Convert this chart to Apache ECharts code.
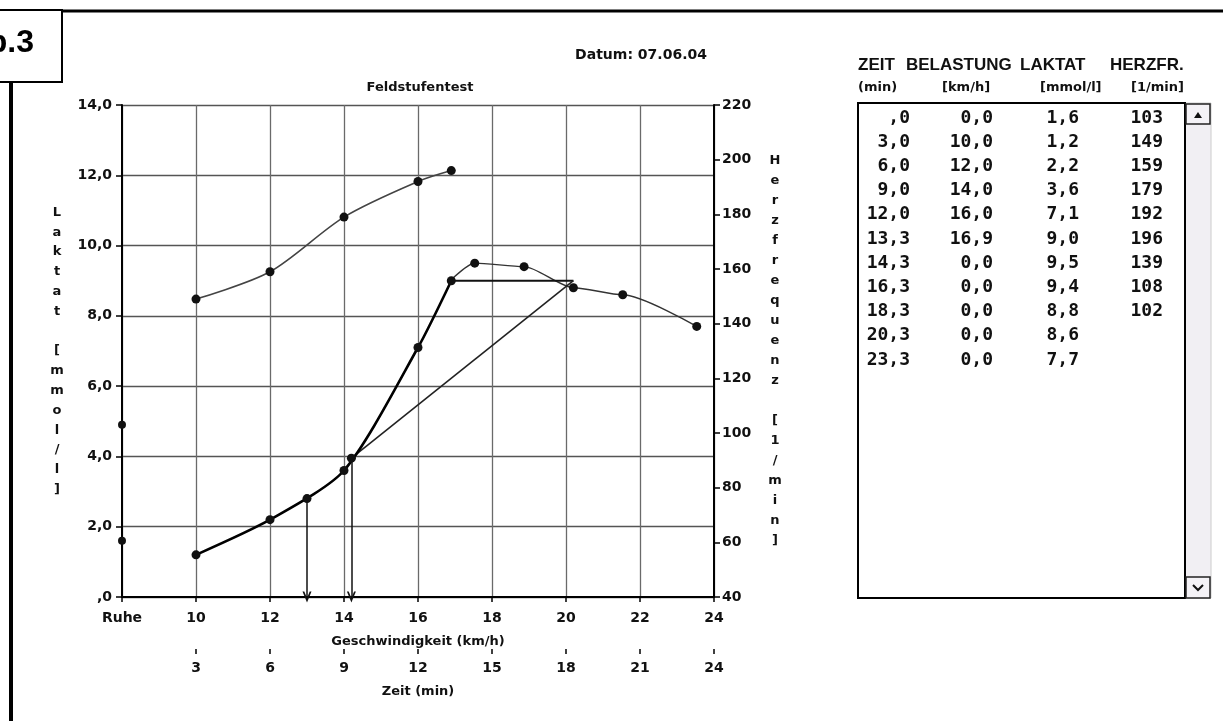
<!DOCTYPE html>
<html><head><meta charset="utf-8">
<script src="https://cdn.jsdelivr.net/npm/echarts@6/dist/echarts.min.js"></script>
<style>html,body{margin:0;padding:0;background:#fff;}#c{width:1223px;height:721px;}</style>
</head><body><div id="c"></div>
<script>
// ---- table / measurement data ----
const zeitMin      = [0, 3, 6, 9, 12, 13.3, 14.3, 16.3, 18.3, 20.3, 23.3];
const belastungKmh = [0, 10, 12, 14, 16, 16.9, 0, 0, 0, 0, 0];
const laktat       = [1.6, 1.2, 2.2, 3.6, 7.1, 9.0, 9.5, 9.4, 8.8, 8.6, 7.7];
const herzfrequenz = [103, 149, 159, 179, 192, 196, 139, 108, 102, null, null];

// ---- axis ticks ----
const speedTicks      = [8, 10, 12, 14, 16, 18, 20, 22, 24];
const speedTickLabels = ['Ruhe', '10', '12', '14', '16', '18', '20', '22', '24'];
const timeTicks       = [3, 6, 9, 12, 15, 18, 21, 24];
const laktatTicks     = [0, 2, 4, 6, 8, 10, 12, 14];
const laktatTickLabels= [',0', '2,0', '4,0', '6,0', '8,0', '10,0', '12,0', '14,0'];
const hfTicks         = [40, 60, 80, 100, 120, 140, 160, 180, 200, 220];

// ---- threshold construction ----
const schwelleSpeed  = [13.0, 14.2];
const schwelleLaktat = [2.8, 3.95];
const iasHorizontal  = [[16.9, 9.0], [20.2, 9.0]];
const iasTangent     = [[20.2, 9.0], [14.2, 3.95]];

// ---- table texts ----
const tableHeaders = ['ZEIT', 'BELASTUNG', 'LAKTAT', 'HERZFR.'];
const tableUnits   = ['(min)', '[km/h]', '[mmol/l]', '[1/min]'];

const comma1 = v => v.toFixed(1).replace('.', ',');
const fmtZeit = v => v === 0 ? ',0' : comma1(v);

const stepIdx = belastungKmh.map((b, i) => b > 0 ? i : -1).filter(i => i >= 0);
const peakIdx = stepIdx[stepIdx.length - 1];
const recIdx = zeitMin.map((t, i) => i > peakIdx ? i : -1).filter(i => i >= 0);
const ruheX = speedTicks[0];

const lblFont = {fontFamily: 'DejaVu Sans', fontWeight: 'bold', color: '#111'};
const dot = {color: '#111', opacity: 1};

const chevron = 'path://M5,0 L10,10 L8,10 L5,4 L2,10 L0,10 Z';

// ---- graphic: frame + table ----
const g = [];
g.push({type: 'line', shape: {x1: 60, y1: 11, x2: 1223, y2: 11}, style: {stroke: '#000', lineWidth: 3}});
g.push({type: 'line', shape: {x1: 11, y1: 82, x2: 11, y2: 721}, style: {stroke: '#000', lineWidth: 4}});
g.push({type: 'rect', shape: {x: -2, y: 10, width: 64, height: 72}, style: {fill: '#fff', stroke: '#000', lineWidth: 2}});
g.push({type: 'text', x: 34, y: 43, style: {text: 'Abb.3', fontSize: 32, fontWeight: 'bold', fontFamily: 'Liberation Sans', fill: '#000', align: 'right', verticalAlign: 'middle'}});
g.push({type: 'text', x: 641, y: 55, style: {text: 'Datum: 07.06.04', fontSize: 14, fontWeight: 'bold', fontFamily: 'DejaVu Sans', fill: '#111', align: 'center', verticalAlign: 'middle'}});
g.push({type: 'text', x: 420, y: 88, style: {text: 'Feldstufentest', fontSize: 13, fontWeight: 'bold', fontFamily: 'DejaVu Sans', fill: '#111', align: 'center', verticalAlign: 'middle'}});

const headerX = [858, 906, 1020, 1110];
tableHeaders.forEach((h, i) => g.push({type: 'text', x: headerX[i], y: 65, style: {text: h, fontSize: 17, fontWeight: 'bold', fontFamily: 'Liberation Sans', fill: '#111', align: 'left', verticalAlign: 'middle'}}));
const unitX = [858, 942, 1040, 1131];
tableUnits.forEach((h, i) => g.push({type: 'text', x: unitX[i], y: 88, style: {text: h, fontSize: 13, fontWeight: 'bold', fontFamily: 'DejaVu Sans', fill: '#111', align: 'left', verticalAlign: 'middle'}}));

// list box and scrollbar
g.push({type: 'rect', shape: {x: 1185, y: 103, width: 26, height: 495}, style: {fill: '#f1eff3', stroke: '#ccc', lineWidth: 1}});
g.push({type: 'rect', shape: {x: 858, y: 103, width: 327, height: 495}, style: {fill: '#fff', stroke: '#000', lineWidth: 2}});
g.push({type: 'rect', shape: {x: 1186, y: 104, width: 24, height: 20}, style: {fill: '#f4f2f6', stroke: '#222', lineWidth: 1.5}});
g.push({type: 'polygon', shape: {points: [[1194, 118], [1202, 118], [1198, 112]]}, style: {fill: '#111'}});
g.push({type: 'rect', shape: {x: 1186, y: 577, width: 24, height: 21}, style: {fill: '#f4f2f6', stroke: '#222', lineWidth: 1.5}});
g.push({type: 'polyline', shape: {points: [[1193, 585], [1198, 590], [1203, 585]]}, style: {stroke: '#111', lineWidth: 2}});

const cols = [
  {vals: zeitMin.map(fmtZeit), x: 910},
  {vals: belastungKmh.map(comma1), x: 993},
  {vals: laktat.map(comma1), x: 1079},
  {vals: herzfrequenz.map(v => v == null ? '' : String(v)), x: 1163}
];
cols.forEach(c => c.vals.forEach((t, r) => g.push({type: 'text', x: c.x, y: 118 + r * 24.2, style: {text: t, fontSize: 18, fontWeight: 'bold', fontFamily: 'DejaVu Sans Mono', fill: '#111', align: 'right', verticalAlign: 'middle'}})));

const option = {
  animation: false,
  backgroundColor: '#fff',
  grid: {left: 122, right: 509, top: 105, bottom: 124},
  xAxis: [
    {
      type: 'value', min: speedTicks[0], max: speedTicks[speedTicks.length - 1], interval: 2, position: 'bottom',
      axisLine: {show: true, onZero: false, lineStyle: {color: '#000', width: 2}},
      axisTick: {show: true, length: 5, lineStyle: {color: '#000', width: 1.5}},
      axisLabel: Object.assign({margin: 14, fontSize: 14, formatter: v => speedTickLabels[speedTicks.indexOf(v)] || ''}, lblFont),
      splitLine: {show: true, lineStyle: {color: '#6a6a6a', width: 1.3}},
      name: 'Geschwindigkeit (km/h)', nameLocation: 'middle', nameGap: 38,
      nameTextStyle: Object.assign({fontSize: 13}, lblFont)
    },
    {
      type: 'value', min: 0, max: 24, interval: 3, position: 'bottom', offset: 52,
      axisLine: {show: false, onZero: false},
      axisTick: {show: true, length: 5, customValues: timeTicks, lineStyle: {color: '#000', width: 1.5}},
      axisLabel: Object.assign({margin: 12, fontSize: 14, customValues: timeTicks, formatter: v => v === 0 ? '' : String(v)}, lblFont),
      splitLine: {show: false},
      name: 'Zeit (min)', nameLocation: 'middle', nameGap: 36,
      nameTextStyle: Object.assign({fontSize: 13}, lblFont)
    }
  ],
  yAxis: [
    {
      type: 'value', min: laktatTicks[0], max: laktatTicks[laktatTicks.length - 1], interval: 2, position: 'left',
      axisLine: {show: true, lineStyle: {color: '#000', width: 2}},
      axisTick: {show: true, length: 6, lineStyle: {color: '#000', width: 1.5}},
      axisLabel: Object.assign({margin: 10, fontSize: 14, formatter: v => laktatTickLabels[laktatTicks.indexOf(v)] || ''}, lblFont),
      splitLine: {show: true, lineStyle: {color: '#555', width: 1.4}},
      name: 'Laktat [mmol/l]'.split('').join('\n'), nameLocation: 'middle', nameRotate: 0, nameGap: 65,
      nameTextStyle: Object.assign({fontSize: 13, lineHeight: 19.8, align: 'center', verticalAlign: 'middle'}, lblFont)
    },
    {
      type: 'value', min: hfTicks[0], max: hfTicks[hfTicks.length - 1], interval: 20, position: 'right',
      axisLine: {show: true, lineStyle: {color: '#000', width: 2}},
      axisTick: {show: true, length: 6, lineStyle: {color: '#000', width: 1.5}},
      axisLabel: Object.assign({margin: 8, fontSize: 14}, lblFont),
      splitLine: {show: false},
      name: 'Herzfrequenz [1/min]'.split('').join('\n'), nameLocation: 'middle', nameRotate: 0, nameGap: 61,
      nameTextStyle: Object.assign({fontSize: 13, lineHeight: 20, align: 'center', verticalAlign: 'middle'}, lblFont)
    }
  ],
  graphic: g,
  series: [
    {
      name: 'Herzfrequenz', type: 'line', xAxisIndex: 0, yAxisIndex: 1, smooth: 0.3,
      data: stepIdx.map(i => [belastungKmh[i], herzfrequenz[i]]),
      lineStyle: {color: '#444', width: 1.6}, symbol: 'circle', symbolSize: 9, itemStyle: dot, z: 3
    },
    {
      name: 'Herzfrequenz Ruhe', type: 'scatter', xAxisIndex: 0, yAxisIndex: 1,
      data: [[ruheX, herzfrequenz[0]]], symbolSize: 8, itemStyle: dot, z: 4
    },
    {
      name: 'Laktat', type: 'line', xAxisIndex: 0, yAxisIndex: 0, smooth: 0.25,
      data: stepIdx.map(i => [belastungKmh[i], laktat[i]]),
      lineStyle: {color: '#000', width: 2.6}, symbol: 'circle', symbolSize: 9, itemStyle: dot, z: 4
    },
    {
      name: 'Laktat Ruhe', type: 'scatter', xAxisIndex: 0, yAxisIndex: 0,
      data: [[ruheX, laktat[0]]], symbolSize: 8, itemStyle: dot, z: 4
    },
    {
      name: 'Nachbelastung Kurve', type: 'line', xAxisIndex: 1, yAxisIndex: 0, smooth: 0.25, smoothMonotone: 'x', showSymbol: false,
      data: [[zeitMin[peakIdx], laktat[peakIdx]]].concat(recIdx.map(i => [zeitMin[i], laktat[i]])),
      lineStyle: {color: '#333', width: 1.4}, z: 3
    },
    {
      name: 'Nachbelastung', type: 'scatter', xAxisIndex: 1, yAxisIndex: 0,
      data: recIdx.map(i => [zeitMin[i], laktat[i]]), symbolSize: 9, itemStyle: dot, z: 4
    },
    {
      name: 'IAS horizontal', type: 'line', xAxisIndex: 0, yAxisIndex: 0, showSymbol: false,
      data: iasHorizontal, lineStyle: {color: '#111', width: 2}, z: 3
    },
    {
      name: 'IAS Tangente', type: 'line', xAxisIndex: 0, yAxisIndex: 0, showSymbol: false,
      data: iasTangent, lineStyle: {color: '#222', width: 1.6}, z: 3
    },
    {
      name: 'Schwellen', type: 'scatter', xAxisIndex: 0, yAxisIndex: 0,
      data: schwelleSpeed.map((s, i) => [s, schwelleLaktat[i]]), symbolSize: 9, itemStyle: dot, z: 5,
      markLine: {
        silent: true, animation: false, label: {show: false},
        lineStyle: {color: '#111', width: 1.5, type: 'solid'},
        data: schwelleSpeed.map((s, i) => [
          {coord: [s, schwelleLaktat[i]], symbol: 'none'},
          {coord: [s, 0], symbol: chevron, symbolSize: [9, 11]}
        ])
      }
    }
  ]
};
const chart = echarts.init(document.getElementById('c'), null, {renderer: 'canvas'});
chart.setOption(option);
</script>
</body></html>
